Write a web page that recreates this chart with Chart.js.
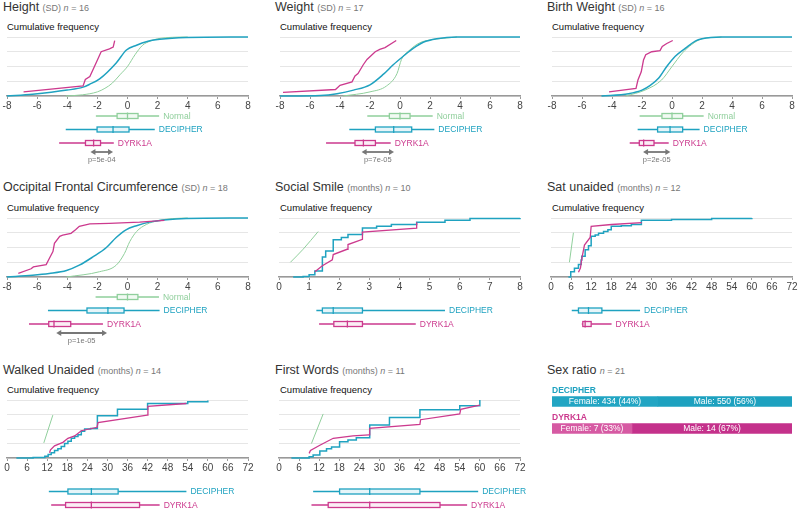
<!DOCTYPE html>
<html>
<head>
<meta charset="utf-8">
<script src="https://cdn.jsdelivr.net/npm/chart.js@4.4.0/dist/chart.umd.min.js"></script>
<style>
  body { margin: 0; width: 800px; height: 512px; overflow: hidden; background: #fff; position: relative;
         font-family: "Liberation Sans", Arial, sans-serif; }
  .t { position: absolute; white-space: nowrap; line-height: 1; }
  .title { font-size: 12.5px; color: #333; }
  .title small { font-size: 9px; color: #777; }
  .cf { font-size: 9.5px; color: #111; }
  .grp { font-size: 8.5px; font-weight: bold; }
  canvas { position: absolute; }
</style>
</head>
<body>
<div class="t title" style="left:3px;top:1px">Height <small>(SD) <i>n</i> = 16</small></div>
<div class="t title" style="left:275px;top:1px">Weight <small>(SD) <i>n</i> = 17</small></div>
<div class="t title" style="left:547px;top:1px">Birth Weight <small>(SD) <i>n</i> = 16</small></div>
<div class="t title" style="left:3px;top:181px">Occipital Frontal Circumference <small>(SD) <i>n</i> = 18</small></div>
<div class="t title" style="left:275px;top:181px">Social Smile <small>(months) <i>n</i> = 10</small></div>
<div class="t title" style="left:547px;top:181px">Sat unaided <small>(months) <i>n</i> = 12</small></div>
<div class="t title" style="left:3px;top:364px">Walked Unaided <small>(months) <i>n</i> = 14</small></div>
<div class="t title" style="left:275px;top:364px">First Words <small>(months) <i>n</i> = 11</small></div>
<div class="t title" style="left:547px;top:364px">Sex ratio <small><i>n</i> = 21</small></div>

<div class="t cf" style="left:7px;top:22px">Cumulative frequency</div>
<div class="t cf" style="left:280px;top:22px">Cumulative frequency</div>
<div class="t cf" style="left:552px;top:22px">Cumulative frequency</div>
<div class="t cf" style="left:7px;top:203px">Cumulative frequency</div>
<div class="t cf" style="left:280px;top:203px">Cumulative frequency</div>
<div class="t cf" style="left:552px;top:203px">Cumulative frequency</div>
<div class="t cf" style="left:7px;top:385px">Cumulative frequency</div>
<div class="t cf" style="left:280px;top:385px">Cumulative frequency</div>

<script>
const teal = '#1fa2c0', pink = '#cc3a8e', green = '#90cf9c';

// tick labels
const sdTicks = [-8, -6, -4, -2, 0, 2, 4, 6, 8];
const smileTicks = [0, 1, 2, 3, 4, 5, 6, 7, 8];
const monthTicks = [0, 6, 12, 18, 24, 30, 36, 42, 48, 54, 60, 66, 72];

// cumulative frequency curves [value, fraction]
const heightNormal = [[-4.1,0],[-3,0.02],[-2,0.07],[-1.5,0.13],[-1,0.22],[-0.5,0.36],[0,0.5],[0.5,0.7],[1,0.86],[1.5,0.93],[2,0.97],[3,0.995],[4,1]];
const heightDecipher = [[-8,0],[-6.3,0.03],[-4,0.1],[-2.95,0.15],[-2.5,0.2],[-1.85,0.29],[-0.75,0.56],[-0.07,0.78],[0.6,0.86],[1.25,0.92],[2.15,0.96],[3.9,0.99],[8,1]];
const heightDyrk = [[-6.9,0.07],[-2.95,0.17],[-2.8,0.28],[-2.5,0.33],[-2.05,0.58],[-1.75,0.75],[-1.2,0.8],[-0.95,0.83],[-0.85,0.94]];

const weightNormal = [[-3.8,0],[-2,0.07],[-0.9,0.17],[-0.2,0.38],[0.1,0.62],[0.65,0.78],[1.3,0.9],[2,0.95],[3.8,1]];
const weightDecipher = [[-8,0],[-5.3,0.01],[-4.2,0.04],[-3.1,0.1],[-2,0.19],[-1.1,0.37],[-0.45,0.53],[0.2,0.67],[0.9,0.81],[1.55,0.91],[2.45,0.97],[3.8,1],[8,1]];
const weightDyrk = [[-7.8,0.06],[-4.3,0.11],[-4,0.18],[-3.2,0.24],[-3,0.34],[-2.8,0.38],[-2.45,0.53],[-2.2,0.62],[-1.65,0.75],[-1.35,0.79],[-1,0.82],[-0.25,0.94]];

const bwNormal = [[-3.1,0],[-1.8,0.1],[-0.7,0.27],[0,0.5],[0.7,0.73],[1.3,0.87],[2,0.97],[3.3,1]];
const bwDecipher = [[-4.7,0],[-2.9,0.04],[-2,0.1],[-1.45,0.18],[-0.9,0.3],[-0.35,0.5],[0.2,0.67],[0.9,0.81],[1.55,0.93],[2,0.97],[3.3,1],[8,1]];
const bwDyrk = [[-4.2,0.07],[-2.4,0.13],[-2.27,0.27],[-2.05,0.41],[-1.9,0.61],[-1.75,0.7],[-1.35,0.75],[-0.8,0.77],[-0.65,0.84],[-0.35,0.89],[0.05,0.94]];

const ofcNormal = [[-4.05,0],[-1.85,0.09],[-0.75,0.2],[-0.2,0.4],[0.15,0.6],[0.6,0.77],[1.25,0.89],[2.1,0.96],[3,0.99],[4,1]];
const ofcDecipher = [[-8,0],[-6.3,0.03],[-5.2,0.06],[-4.05,0.11],[-3.2,0.2],[-2.3,0.34],[-1.4,0.5],[-0.75,0.67],[-0.1,0.8],[0.6,0.87],[1.45,0.93],[2.6,0.97],[3.9,0.99],[8,1]];
const ofcDyrk = [[-7.25,0.06],[-6.4,0.14],[-6.25,0.17],[-5.4,0.21],[-5.2,0.31],[-4.95,0.43],[-4.85,0.57],[-4.5,0.69],[-4.3,0.71],[-3.75,0.74],[-3.45,0.8],[-3.2,0.86],[-2.5,0.9],[-1.2,0.91],[0.8,0.93],[2.45,0.96]];

const smileNormal = [[0.38,0.25],[0.8,0.47],[1.3,0.77]];
const smileDecipher = [[0.47,0],[0.8,0.01],[1.0,0.04],[1.19,0.1],[1.44,0.34],[1.55,0.44],[1.8,0.63],[2.07,0.67],[2.29,0.72],[2.77,0.83],[3.24,0.86],[3.73,0.89],[4.57,0.93],[5.51,0.96],[6.34,0.99],[8,1]];
const smileDyrk = [[1.19,0.09],[1.44,0.19],[1.77,0.29],[1.8,0.38],[2.26,0.47],[2.29,0.55],[2.77,0.64],[2.77,0.76],[4.57,0.83],[4.57,0.93]];

const satNormal = [[5.5,0.25],[6.7,0.75]];
const satDecipher = [[5.2,0],[5.9,0.09],[7,0.15],[8.2,0.21],[9,0.29],[9.2,0.35],[10.2,0.46],[11.2,0.53],[12,0.69],[13.2,0.71],[14.2,0.74],[15.7,0.77],[17,0.8],[18,0.86],[21,0.87],[24,0.89],[27,0.96],[36,0.975],[48,0.99],[60,1]];
const satDyrk = [[8.2,0.08],[8.8,0.15],[9.2,0.31],[10,0.54],[11.7,0.67],[12,0.86],[18.1,0.89],[27.1,0.92]];

const walkNormal = [[11,0.26],[13.7,0.74]];
const walkDecipher = [[2.8,0],[7.8,0.01],[11.3,0.03],[12.3,0.06],[13.2,0.09],[14.2,0.13],[15.2,0.16],[16.2,0.2],[17.2,0.25],[18.2,0.29],[19.2,0.34],[20.2,0.37],[21.2,0.4],[22.2,0.46],[23.2,0.5],[25,0.51],[27,0.73],[33,0.84],[42,0.94],[54,0.97],[60,0.99]];
const walkDyrk = [[12.7,0.09],[13,0.14],[14.2,0.21],[16.7,0.27],[18.2,0.34],[20.2,0.38],[22.2,0.47],[26.9,0.53],[27.2,0.61],[41.9,0.74],[42.1,0.89],[53.6,0.94]];

const wordsNormal = [[9.7,0.25],[13.2,0.76]];
const wordsDecipher = [[3.7,0],[9,0.02],[10.2,0.05],[12.2,0.12],[14.2,0.16],[15.7,0.19],[18.1,0.28],[20.6,0.31],[23.1,0.35],[27.1,0.57],[33,0.7],[42.1,0.83],[54,0.9],[60,1]];
const wordsDyrk = [[9,0.08],[9.4,0.13],[12.2,0.22],[16.2,0.34],[22.1,0.38],[26.9,0.4],[27.1,0.51],[42.1,0.58],[42.3,0.66],[54,0.76],[54.3,0.84],[60,0.91]];

// box plot stats [min, q1, median, q3, max]
const heightBoxNormal = [-2.1,-0.69,0,0.7,2.1], heightBoxDecipher = [-4.1,-2.02,-0.96,0.1,1.81], heightBoxDyrk = [-4.54,-2.79,-2.25,-1.79,-0.91];
const weightBoxNormal = [-2.18,-0.71,0,0.67,2.18], weightBoxDecipher = [-3.38,-1.64,-0.42,0.78,2.29], weightBoxDyrk = [-4.93,-3,-2.44,-1.64,-0.62];
const bwBoxNormal = [-2.16,-0.67,0,0.71,2.11], bwBoxDecipher = [-2.29,-0.96,-0.13,0.71,1.84], bwBoxDyrk = [-2.82,-2.18,-1.89,-1.2,-0.22];
const ofcBoxNormal = [-2.12,-0.68,0,0.69,2.09], ofcBoxDecipher = [-5.28,-2.69,-1.3,-0.23,2.13], ofcBoxDyrk = [-6.54,-5.23,-4.88,-3.77,-1.63];
const smileBoxDecipher = [1.24,1.44,1.8,2.77,5.51], smileBoxDyrk = [1.33,1.82,2.27,2.77,4.54];
const satBoxDecipher = [6.2,8.2,11.2,15.2,26.6], satBoxDyrk = [9.2,9.5,10.2,12,18.1];
const walkBoxDecipher = [12.5,18.2,25.2,33.2,53.6], walkBoxDyrk = [13.2,17.5,25.2,39.6,45.6];
const wordsBoxDecipher = [10.2,18.1,27.1,42.1,59.5], wordsBoxDyrk = [9.7,14.7,27.1,48.1,56.2];

// p-value arrows [from, to, label]
const heightP = [-2.46, -0.96, 'p=5e-04'];
const weightP = [-2.56, -0.4, 'p=7e-05'];
const bwP = [-1.93, -0.11, 'p=2e-05'];
const ofcP = [-4.73, -1.36, 'p=1e-05'];

// sex ratio
const sexGroups = ['DECIPHER', 'DYRK1A'];
const femaleCounts = [434, 7];
const maleCounts = [550, 14];

function boxPlugin(normal, decipher, dyrk, pval) {
  const rows = [];
  if (normal) rows.push({ s: normal, dy: 20, color: green, fill: '#f1faf3', label: 'Normal' });
  rows.push({ s: decipher, dy: 33.5, color: teal, fill: '#e6f5f9', label: 'DECIPHER' });
  rows.push({ s: dyrk, dy: 47, color: pink, fill: '#fbeef5', label: 'DYRK1A' });
  return {
    id: 'boxes',
    afterDraw(chart) {
      const ctx = chart.ctx, x = chart.scales.x, base = chart.chartArea.bottom;
      ctx.save();
      rows.forEach(r => {
        const y = base + r.dy;
        const p = r.s.map(v => x.getPixelForValue(v));
        ctx.strokeStyle = r.color;
        ctx.lineWidth = 1.3;
        ctx.beginPath();
        ctx.moveTo(p[0], y); ctx.lineTo(p[1], y);
        ctx.moveTo(p[3], y); ctx.lineTo(p[4], y);
        ctx.stroke();
        ctx.fillStyle = r.fill;
        ctx.fillRect(p[1], y - 2.5, p[3] - p[1], 5);
        ctx.strokeRect(p[1], y - 2.5, p[3] - p[1], 5);
        ctx.beginPath();
        ctx.moveTo(p[2], y - 3.5); ctx.lineTo(p[2], y + 3.5);
        ctx.stroke();
        ctx.fillStyle = r.color;
        ctx.font = '8.5px "Liberation Sans", Arial, sans-serif';
        ctx.textBaseline = 'middle';
        ctx.fillText(r.label, p[4] + 4, y + 0.5);
      });
      if (pval) {
        const a = x.getPixelForValue(pval[0]), b = x.getPixelForValue(pval[1]);
        const y = base + 56;
        ctx.strokeStyle = '#777'; ctx.fillStyle = '#777'; ctx.lineWidth = 1.8;
        ctx.beginPath(); ctx.moveTo(a + 3, y); ctx.lineTo(b - 3, y); ctx.stroke();
        ctx.beginPath(); ctx.moveTo(a, y); ctx.lineTo(a + 5, y - 3); ctx.lineTo(a + 5, y + 3); ctx.closePath(); ctx.fill();
        ctx.beginPath(); ctx.moveTo(b, y); ctx.lineTo(b - 5, y - 3); ctx.lineTo(b - 5, y + 3); ctx.closePath(); ctx.fill();
        ctx.font = '7.5px "Liberation Sans", Arial, sans-serif';
        ctx.textAlign = 'center'; ctx.textBaseline = 'middle';
        ctx.fillText(pval[2], (a + b) / 2, base + 63.5);
      }
      ctx.restore();
    }
  };
}

function cdfPanel(x0, x1, top, plotH, ticks, curves, stepped, boxes) {
  const padL = 10, padR = 10, padT = 4, axisH = 14, below = 70;
  const canvas = document.createElement('canvas');
  canvas.width = x1 - x0 + padL + padR;
  canvas.height = padT + plotH + below;
  canvas.style.left = (x0 - padL) + 'px';
  canvas.style.top = (top - padT) + 'px';
  document.body.appendChild(canvas);
  const line = (data, color, width, step, smooth) => ({
    data: data.map(d => ({ x: d[0], y: d[1] })),
    showLine: true, borderColor: color, borderWidth: width, pointRadius: 0,
    stepped: step, cubicInterpolationMode: smooth ? 'monotone' : 'default', tension: 0, clip: 4
  });
  new Chart(canvas, {
    type: 'scatter',
    data: {
      datasets: [
        line(curves[2], pink, 1.3, false, false),
        line(curves[1], teal, 1.5, stepped, !stepped),
        line(curves[0], green, 1, false, true)
      ]
    },
    options: {
      responsive: false,
      animation: false,
      layout: { padding: { left: padL, right: padR, top: padT, bottom: below - axisH } },
      plugins: { legend: { display: false }, tooltip: { enabled: false } },
      scales: {
        x: {
          type: 'linear', min: ticks[0], max: ticks[ticks.length - 1],
          afterBuildTicks: s => { s.ticks = ticks.map(v => ({ value: v })); },
          afterFit: s => { s.height = axisH; },
          ticks: { color: '#444', padding: 1, maxRotation: 0, font: { size: 10, family: '"Liberation Sans", Arial, sans-serif' } },
          grid: { drawOnChartArea: false, tickLength: 3, color: '#999' },
          border: { color: '#999', width: 1.5 }
        },
        y: {
          min: 0, max: 1,
          afterFit: s => { s.width = 0; },
          ticks: { display: false, stepSize: 0.25 },
          grid: { color: '#e6e6e6', drawTicks: false },
          border: { display: false }
        }
      }
    },
    plugins: [boxPlugin(boxes[0], boxes[1], boxes[2], boxes[3])]
  });
}

cdfPanel(7, 248, 37, 59, sdTicks, [heightNormal, heightDecipher, heightDyrk], false,
  [heightBoxNormal, heightBoxDecipher, heightBoxDyrk, heightP]);
cdfPanel(280, 520, 37, 59, sdTicks, [weightNormal, weightDecipher, weightDyrk], false,
  [weightBoxNormal, weightBoxDecipher, weightBoxDyrk, weightP]);
cdfPanel(552, 792, 37, 59, sdTicks, [bwNormal, bwDecipher, bwDyrk], false,
  [bwBoxNormal, bwBoxDecipher, bwBoxDyrk, bwP]);
cdfPanel(7, 248, 218, 59, sdTicks, [ofcNormal, ofcDecipher, ofcDyrk], false,
  [ofcBoxNormal, ofcBoxDecipher, ofcBoxDyrk, ofcP]);
cdfPanel(279, 520, 218, 59, smileTicks, [smileNormal, smileDecipher, smileDyrk], true,
  [null, smileBoxDecipher, smileBoxDyrk, null]);
cdfPanel(551, 792, 218, 59, monthTicks, [satNormal, satDecipher, satDyrk], true,
  [null, satBoxDecipher, satBoxDyrk, null]);
cdfPanel(7, 248, 400, 58, monthTicks, [walkNormal, walkDecipher, walkDyrk], true,
  [null, walkBoxDecipher, walkBoxDyrk, null]);
cdfPanel(279, 520, 400, 58, monthTicks, [wordsNormal, wordsDecipher, wordsDyrk], true,
  [null, wordsBoxDecipher, wordsBoxDyrk, null]);

// sex ratio bars
const sexCanvas = document.createElement('canvas');
sexCanvas.width = 240; sexCanvas.height = 54;
sexCanvas.style.left = '552px'; sexCanvas.style.top = '388px';
document.body.appendChild(sexCanvas);
const totals = femaleCounts.map((f, i) => f + maleCounts[i]);
const femalePct = femaleCounts.map((f, i) => f / totals[i] * 100);
const malePct = maleCounts.map((m, i) => m / totals[i] * 100);
new Chart(sexCanvas, {
  type: 'bar',
  data: {
    labels: sexGroups,
    datasets: [
      { label: 'Female', data: femalePct, counts: femaleCounts, backgroundColor: ['#22a5c3', '#d65aa3'], barThickness: 10 },
      { label: 'Male', data: malePct, counts: maleCounts, backgroundColor: ['#1da1bf', '#c4318b'], barThickness: 10 }
    ]
  },
  options: {
    indexAxis: 'y', responsive: false, animation: false,
    layout: { padding: 0 },
    plugins: { legend: { display: false }, tooltip: { enabled: false } },
    scales: {
      x: { stacked: true, min: 0, max: 100, display: false },
      y: { stacked: true, display: false }
    }
  },
  plugins: [{
    id: 'barText',
    afterDatasetsDraw(chart) {
      const ctx = chart.ctx;
      ctx.save();
      ctx.fillStyle = '#fff';
      ctx.font = '8.5px "Liberation Sans", Arial, sans-serif';
      ctx.textAlign = 'center'; ctx.textBaseline = 'middle';
      chart.data.datasets.forEach((ds, di) => {
        chart.getDatasetMeta(di).data.forEach((bar, i) => {
          const cx = (bar.x + bar.base) / 2;
          ctx.fillText(ds.label + ': ' + ds.counts[i] + ' (' + Math.round(ds.data[i]) + '%)', cx, bar.y + 0.5);
        });
      });
      ctx.restore();
    }
  }]
});
</script>
<div class="t grp" style="left:552px;top:386px;color:#1fa2c0">DECIPHER</div>
<div class="t grp" style="left:552px;top:413px;color:#cc3a8e">DYRK1A</div>
</body>
</html>
